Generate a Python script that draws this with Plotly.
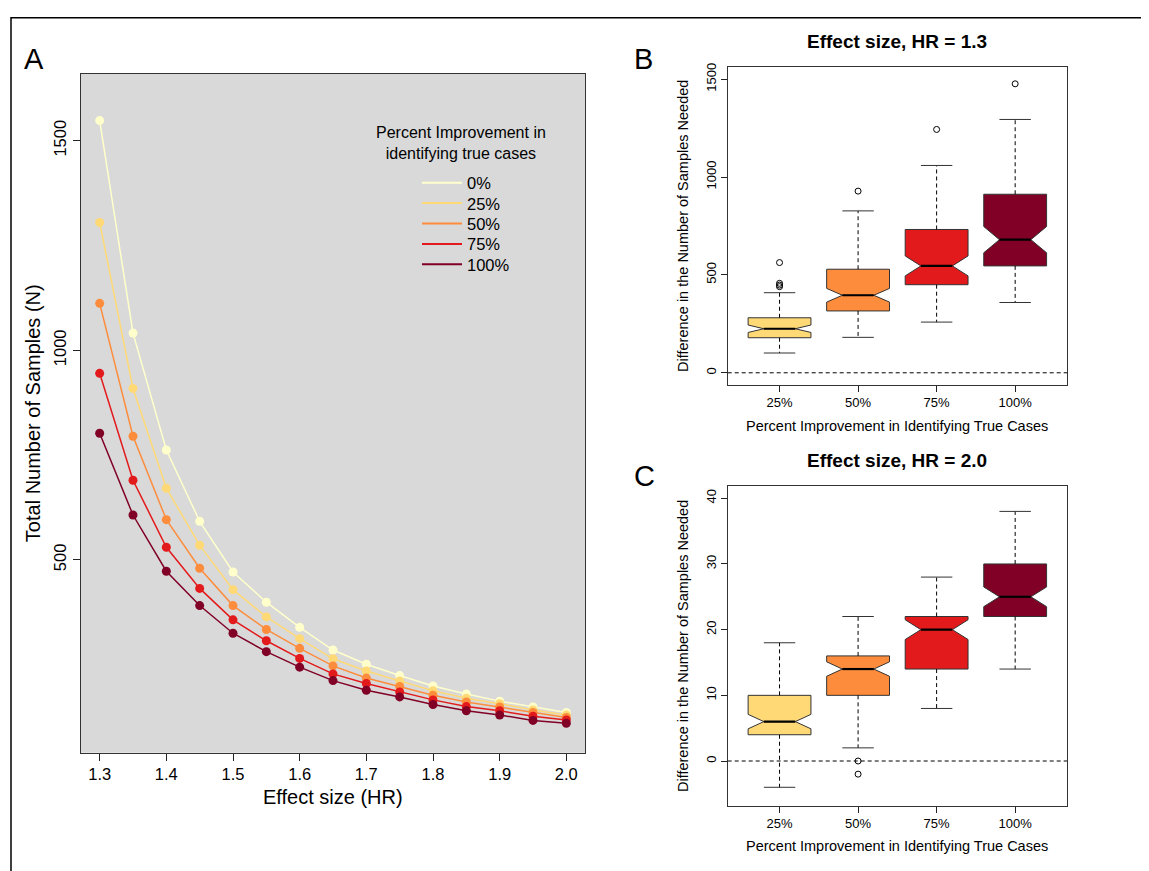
import plotly.graph_objects as go

# ---------------- Panel A data ----------------
hr = [1.30, 1.35, 1.40, 1.45, 1.50, 1.55, 1.60, 1.65, 1.70, 1.75, 1.80, 1.85, 1.90, 1.95, 2.00]
improvement_labels = ["0%", "25%", "50%", "75%", "100%"]
n_0 = [1548, 1041, 762, 592, 471, 399, 339, 285, 251, 224, 199, 180, 163, 149, 136]
n_25 = [1305, 909, 671, 535, 429, 364, 312, 264, 235, 211, 188, 170, 157, 142, 130]
n_50 = [1112, 795, 596, 480, 391, 334, 289, 247, 218, 198, 177, 161, 149, 136, 124]
n_75 = [945, 690, 530, 432, 357, 307, 265, 228, 205, 185, 166, 150, 140, 127, 118]
n_100 = [802, 607, 473, 391, 325, 281, 244, 212, 189, 173, 155, 140, 130, 117, 110]
series_a = [n_0, n_25, n_50, n_75, n_100]
colors_a = ["#FFFFCC", "#FED976", "#FD8D3C", "#E31A1C", "#800026"]

x_ticks_a = [1.3, 1.4, 1.5, 1.6, 1.7, 1.8, 1.9, 2.0]
x_ticklabels_a = ["1.3", "1.4", "1.5", "1.6", "1.7", "1.8", "1.9", "2.0"]
y_ticks_a = [500, 1000, 1500]

# ---------------- Boxplot data (panels B, C) ----------------
box_categories = ["25%", "50%", "75%", "100%"]
box_positions = [1, 2, 3, 4]
box_colors = ["#FED976", "#FD8D3C", "#E31A1C", "#800026"]

# Panel B : HR = 1.3
b_low = [101, 181, 259, 359]
b_q1 = [179, 316, 450, 546]
b_median = [225, 396, 546, 680]
b_q3 = [281, 529, 732, 912]
b_high = [409, 827, 1059, 1294]
b_notch = [19, 35, 51, 67]
b_outliers = [[440, 448, 457, 563], [928], [1243], [1476]]
y_ticks_b = [0, 500, 1000, 1500]

# Panel C : HR = 2.0
c_low = [-4, 2, 8, 14]
c_q1 = [4, 10, 14, 22]
c_median = [6, 14, 20, 25]
c_q3 = [10, 16, 22, 30]
c_high = [18, 22, 28, 38]
c_notch = [1.1, 1.1, 1.5, 1.5]
c_outliers = [[], [0, -2], [], []]
y_ticks_c = [0, 10, 20, 30, 40]

# page offset (body margin of the html page)
OFF = 8
W, H = 1149 - OFF, 871 - OFF
FONT = "Liberation Sans, Arial, Helvetica, sans-serif"


def px(x):
    return (x - OFF) / W


def py(y):
    return 1 - (y - OFF) / H


fig = go.Figure()

# ---- Panel A lines ----
for vals, col in zip(series_a, colors_a):
    fig.add_trace(go.Scatter(
        x=hr, y=vals, mode="lines+markers",
        line=dict(color=col, width=1.5),
        marker=dict(color=col, size=9),
        showlegend=False, hoverinfo="x+y", xaxis="x", yaxis="y"))

# legend entries: one single-item legend per entry so that spacing matches
legend_centers = [179, 199.5, 220, 240.5, 261]
legend_layouts = {}
for k, (lab, col, yc) in enumerate(zip(improvement_labels, colors_a, legend_centers)):
    lname = "legend" if k == 0 else "legend%d" % (k + 1)
    fig.add_trace(go.Scatter(
        x=[None], y=[None], mode="lines", name=lab,
        line=dict(color=col, width=2), showlegend=True, legend=lname,
        xaxis="x", yaxis="y"))
    legend_layouts[lname] = dict(x=px(417), xanchor="left", y=py(yc), yanchor="middle",
                                 bgcolor="rgba(0,0,0,0)", borderwidth=0,
                                 font=dict(size=16.5, family=FONT, color="black"),
                                 itemwidth=40)


# ---- Boxplots ----
def add_boxes(xa, ya, low, q1, med, q3, high, notch, outliers):
    half = 0.4
    cap = 0.2
    for p, b, c, d, n, col in zip(box_positions, q1, med, q3, notch, box_colors):
        fig.add_trace(go.Box(
            x=[p], q1=[b], median=[c], q3=[d], lowerfence=[b], upperfence=[d],
            notched=True, notchspan=[n], notchwidth=0.25, width=2 * half,
            fillcolor=col, line=dict(color="#333333", width=1),
            whiskerwidth=0, boxpoints=False, showlegend=False,
            xaxis=xa, yaxis=ya, hoverinfo="skip"))
    # dashed whiskers
    wx, wy = [], []
    for p, a, b, d, e in zip(box_positions, low, q1, q3, high):
        wx += [p, p, None, p, p, None]
        wy += [d, e, None, b, a, None]
    fig.add_trace(go.Scatter(x=wx, y=wy, mode="lines",
                             line=dict(color="black", width=1, dash="4px,3px"),
                             showlegend=False, hoverinfo="skip", xaxis=xa, yaxis=ya))
    # caps
    cx, cy = [], []
    for p, a, e in zip(box_positions, low, high):
        cx += [p - cap, p + cap, None, p - cap, p + cap, None]
        cy += [e, e, None, a, a, None]
    fig.add_trace(go.Scatter(x=cx, y=cy, mode="lines",
                             line=dict(color="#333333", width=1),
                             showlegend=False, hoverinfo="skip", xaxis=xa, yaxis=ya))
    # medians (thick)
    mx, my = [], []
    for p, c in zip(box_positions, med):
        mx += [p - cap, p + cap, None]
        my += [c, c, None]
    fig.add_trace(go.Scatter(x=mx, y=my, mode="lines",
                             line=dict(color="black", width=2.2),
                             showlegend=False, hoverinfo="skip", xaxis=xa, yaxis=ya))
    # outliers
    ox, oy = [], []
    for p, outs in zip(box_positions, outliers):
        for v in outs:
            ox.append(p)
            oy.append(v)
    fig.add_trace(go.Scatter(x=ox, y=oy, mode="markers",
                             marker=dict(symbol="circle-open", size=6, color="black",
                                         line=dict(width=1, color="black")),
                             showlegend=False, hoverinfo="y", xaxis=xa, yaxis=ya))


add_boxes("x2", "y2", b_low, b_q1, b_median, b_q3, b_high, b_notch, b_outliers)
add_boxes("x3", "y3", c_low, c_q1, c_median, c_q3, c_high, c_notch, c_outliers)

axis_common = dict(showline=True, mirror=True, linecolor="#333333", linewidth=1,
                   ticks="outside", tickcolor="#222222", showgrid=False, zeroline=False,
                   fixedrange=True)

# Panel geometry (page pixels)
A_l, A_r, A_t, A_b = 81, 585, 69, 752
B_l, B_r, B_t, B_b = 727.7, 1067, 62.7, 381.7
C_t, C_b = 484.2, 805.3

fig.update_layout(
    width=W, height=H, margin=dict(l=0, r=0, t=0, b=0),
    paper_bgcolor="white", plot_bgcolor="rgba(0,0,0,0)",
    font=dict(family=FONT, color="black"),
    boxmode="overlay",
    xaxis=dict(domain=[px(A_l), px(A_r)], range=[1.272, 2.028], anchor="y",
               tickvals=x_ticks_a, ticktext=x_ticklabels_a, ticklen=7,
               tickfont=dict(size=16.5), **axis_common),
    yaxis=dict(domain=[py(A_b), py(A_t)], range=[40, 1660], anchor="x",
               tickvals=y_ticks_a, ticklen=7, tickangle=-90,
               tickfont=dict(size=16.5), **axis_common),
    xaxis2=dict(domain=[px(B_l), px(B_r)], range=[0.34, 4.66], anchor="y2",
                tickvals=box_positions, ticktext=box_categories, ticklen=6,
                tickfont=dict(size=13), **axis_common),
    yaxis2=dict(domain=[py(B_b), py(B_t)], range=[-60, 1560], anchor="x2",
                tickvals=y_ticks_b, ticklen=6, tickangle=-90,
                tickfont=dict(size=13), **axis_common),
    xaxis3=dict(domain=[px(B_l), px(B_r)], range=[0.34, 4.66], anchor="y3",
                tickvals=box_positions, ticktext=box_categories, ticklen=6,
                tickfont=dict(size=13), **axis_common),
    yaxis3=dict(domain=[py(C_b), py(C_t)], range=[-6.8, 41.8], anchor="x3",
                tickvals=y_ticks_c, ticklen=6, tickangle=-90,
                tickfont=dict(size=13), **axis_common),
    showlegend=True,
    **legend_layouts,
)

shapes = [
    # grey background of panel A
    dict(type="rect", xref="x domain", yref="y domain", x0=0, x1=1, y0=0, y1=1,
         fillcolor="#D9D9D9", line=dict(width=0), layer="below"),
    # zero reference lines
    dict(type="line", xref="x2 domain", yref="y2", x0=0, x1=1, y0=0, y1=0,
         line=dict(color="black", width=1, dash="4px,3px")),
    dict(type="line", xref="x3 domain", yref="y3", x0=0, x1=1, y0=0, y1=0,
         line=dict(color="black", width=1, dash="4px,3px")),
    # outer figure frame
    dict(type="rect", xref="paper", yref="paper", x0=px(11), x1=1.05, y0=-0.05, y1=py(12.7),
         line=dict(color="black", width=1.5), fillcolor="rgba(0,0,0,0)"),
]
fig.update_layout(shapes=shapes)


def ann(text, x, y, size, bold=False, angle=0, xanchor="center"):
    return dict(text=("<b>%s</b>" % text) if bold else text, x=px(x), y=py(y),
                xref="paper", yref="paper", showarrow=False, textangle=angle,
                xanchor=xanchor, yanchor="middle", font=dict(size=size, family=FONT, color="black"))


annotations = [
    ann("A", 22, 54, 29, xanchor="left"),
    ann("B", 643, 54.5, 29),
    ann("C", 644, 473.5, 29),
    ann("Effect size, HR = 1.3", (B_l + B_r) / 2, 36.5, 19, bold=True),
    ann("Effect size, HR = 2.0", (B_l + B_r) / 2, 458, 19, bold=True),
    ann("Effect size (HR)", (A_l + A_r) / 2, 797, 20),
    ann("Total Number of Samples (N)", 33, (A_t + A_b) / 2, 20, angle=-90),
    ann("Percent Improvement in Identifying True Cases", (B_l + B_r) / 2, 423, 14.5),
    ann("Percent Improvement in Identifying True Cases", (B_l + B_r) / 2, 846, 14.5),
    ann("Difference in the Number of Samples Needed", 683, (B_t + B_b) / 2, 14.5, angle=-90),
    ann("Difference in the Number of Samples Needed", 683, (C_t + C_b) / 2, 14.5, angle=-90),
    ann("Percent Improvement in<br>identifying true cases", 461, 139, 16),
]
fig.update_layout(annotations=annotations)

fig.write_html("out.html")
